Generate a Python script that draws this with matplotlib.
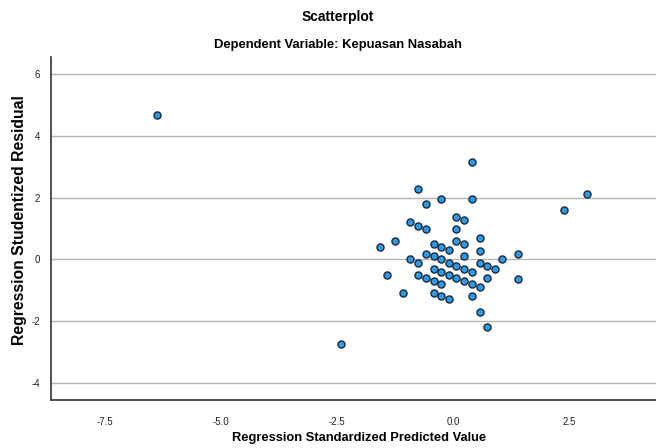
import matplotlib.pyplot as plt

# standardized predicted values (x) and studentized residuals (y)
pred = [-6.38, -2.41, 2.38, 2.88,
        0.40, -0.75, -0.26, 0.40, -0.59, 0.07, 0.24, -0.92, -0.75, -0.59,
        0.07, 0.57, 0.07, -1.25, -1.58, -0.42, 0.24, -0.26, -0.09, 0.57,
        -0.59, -0.42, 1.39, 0.24, -0.92, -0.75, -0.26, -0.09, 0.07, 0.57,
        1.06, 0.73, 0.90, -0.42, 0.24, 0.40, -0.26, -1.42, -0.75, -0.09,
        -0.59, 0.07, 0.73, 1.39, -0.42, 0.24, -0.26, 0.40, 0.57, -1.08,
        -0.42, -0.26, 0.40, -0.09, 0.57, 0.73]
resid = [4.67, -2.75, 1.60, 2.12,
         3.16, 2.27, 1.97, 1.97, 1.79, 1.38, 1.28, 1.21, 1.09, 0.99,
         0.99, 0.68, 0.59, 0.60, 0.41, 0.49, 0.49, 0.39, 0.29, 0.28,
         0.19, 0.10, 0.17, 0.10, 0.00, -0.11, 0.00, -0.11, -0.21, -0.11,
         0.00, -0.21, -0.30, -0.30, -0.30, -0.40, -0.40, -0.50, -0.50, -0.50,
         -0.60, -0.60, -0.60, -0.62, -0.70, -0.70, -0.80, -0.80, -0.90, -1.09,
         -1.09, -1.20, -1.20, -1.29, -1.71, -2.20]

x_ticks = [-7.5, -5.0, -2.5, 0.0, 2.5]
y_ticks = [-4, -2, 0, 2, 4, 6]

plt.rcParams['font.family'] = ['Liberation Sans', 'DejaVu Sans']
plt.rcParams['axes.unicode_minus'] = False

fig = plt.figure(figsize=(6.56, 4.48), dpi=100)
ax = fig.add_axes([51 / 656, 1 - 400 / 448, 605 / 656, 343 / 448])

ax.scatter(pred, resid, s=26, color='#2f9ae6', edgecolors='#1b2a3a',
           linewidths=1.0, zorder=3)

ax.set_xlim(-8.66, 4.37)
ax.set_ylim(-4.55, 6.55)
ax.set_xticks(x_ticks)
ax.set_xticklabels([f'{v:.1f}' for v in x_ticks])
ax.set_yticks(y_ticks)
ax.tick_params(axis='both', length=0, labelsize=7, colors='#222222')
ax.tick_params(axis='x', pad=12)
ax.tick_params(axis='y', pad=8)
ax.grid(axis='y', color='#b4b4b4', linewidth=1.0, zorder=1)

for s in ['top', 'right']:
    ax.spines[s].set_visible(False)
for s in ['left', 'bottom']:
    ax.spines[s].set_color('#333333')
    ax.spines[s].set_linewidth(1.2)

fig.text(338 / 656, 1 - 17 / 448, 'Scatterplot', ha='center', va='center',
         fontsize=10, fontweight='bold')
fig.text(338 / 656, 1 - 45 / 448, 'Dependent Variable: Kepuasan Nasabah',
         ha='center', va='center', fontsize=9.4, fontweight='bold')
fig.text(359 / 656, 1 - 438 / 448, 'Regression Standardized Predicted Value',
         ha='center', va='center', fontsize=9.3, fontweight='bold')
fig.text(20 / 656, 1 - 220 / 448, 'Regression Studentized Residual',
         ha='center', va='center', rotation=90, fontsize=11.3,
         fontweight='bold')

fig.savefig('out.png', dpi=100)
